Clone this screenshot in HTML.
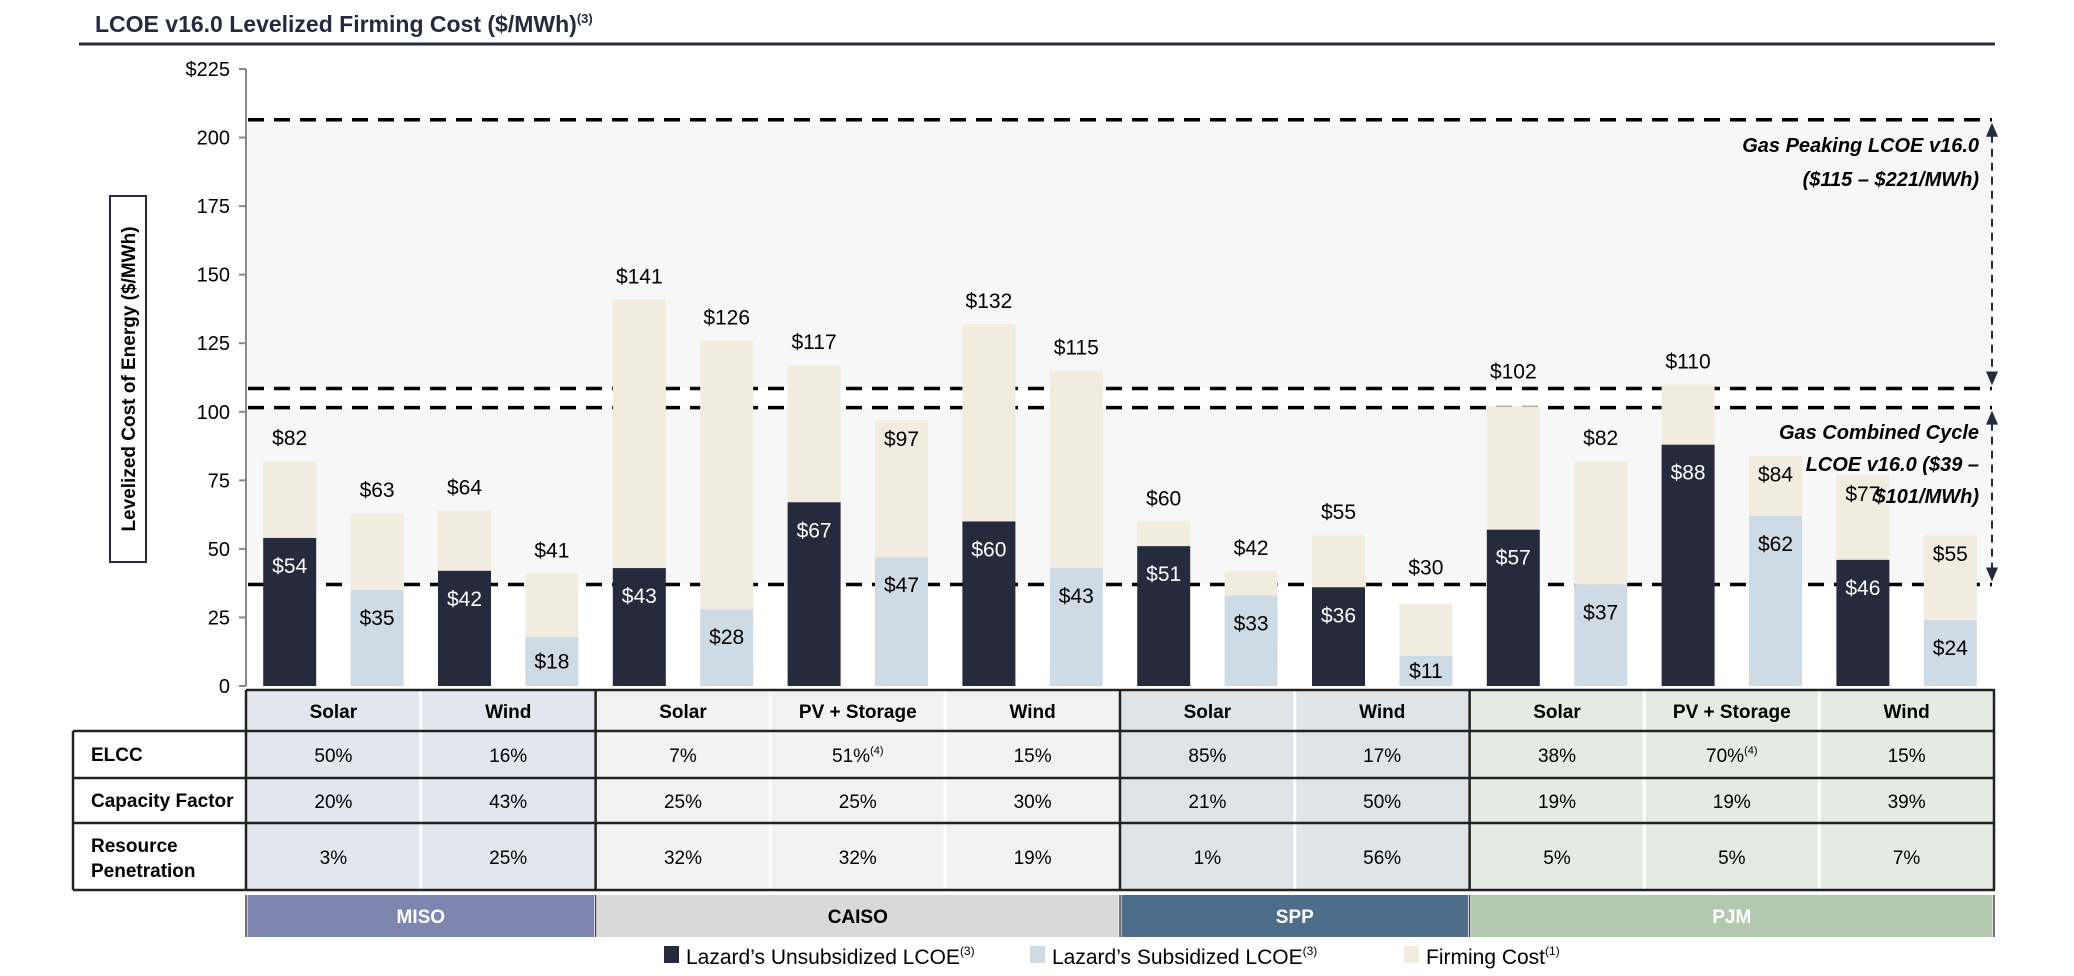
<!DOCTYPE html>
<html><head><meta charset="utf-8"><style>
body{margin:0;background:#fff;}
svg{display:block;font-family:"Liberation Sans Narrow","Liberation Sans",sans-serif;}
</style></head><body>
<svg id="chart" width="2074" height="976" viewBox="0 0 2074 976" xmlns="http://www.w3.org/2000/svg">
<text x="95" y="32" font-family="Liberation Sans, sans-serif" font-weight="bold" font-size="23" fill="#262a3d">LCOE v16.0 Levelized Firming Cost ($/MWh)<tspan font-size="13" dy="-9">(3)</tspan></text>
<line x1="79" y1="44" x2="1995" y2="44" stroke="#262a3d" stroke-width="3"/>
<g>
<rect x="110" y="196" width="36" height="366" fill="#fff" stroke="#262a3d" stroke-width="2"/>
<text x="0" y="0" transform="translate(135,379) rotate(-90)" text-anchor="middle" font-family="Liberation Sans, sans-serif" font-weight="bold" font-size="19" fill="#000">Levelized Cost of Energy ($/MWh)</text>
</g>
<g id="plot"></g>
<g id="table"></g>
<g id="legend"></g>
</svg>
<script>
const categories = ["MISO Solar","MISO Wind","CAISO Solar","CAISO PV + Storage","CAISO Wind","SPP Solar","SPP Wind","PJM Solar","PJM PV + Storage","PJM Wind"];
const unsubLCOE = [54,42,43,67,60,51,36,57,88,46];
const unsubTotal = [82,64,141,117,132,60,55,102,110,77];
const subLCOE = [35,18,28,47,43,33,11,37,62,24];
const subTotal = [63,41,126,97,115,42,30,82,84,55];
const yTicks = [0,25,50,75,100,125,150,175,200,225];
const gasPeakRange = [206.5,108.5];
const gasCCRange = [101.5,37];
const techLabels = ["Solar","Wind","Solar","PV + Storage","Wind","Solar","Wind","Solar","PV + Storage","Wind"];
const elcc = ["50%","16%","7%","51%","15%","85%","17%","38%","70%","15%"];
const capFactor = ["20%","43%","25%","25%","30%","21%","50%","19%","19%","39%"];
const penetration = ["3%","25%","32%","32%","19%","1%","56%","5%","5%","7%"];
const regions = ["MISO","CAISO","SPP","PJM"];
const regionCols = [2,3,2,3];

const NS="http://www.w3.org/2000/svg";
const X0=246, COLW=174.8, Y0=686, YMAX=225, YPIX=617;
const y=v=>Y0-v*YPIX/YMAX;
const colX=i=>X0+i*COLW;
function el(tag,attrs,parent,text){const e=document.createElementNS(NS,tag);for(const k in attrs)e.setAttribute(k,attrs[k]);if(text!==undefined)e.textContent=text;parent.appendChild(e);return e;}
const plot=document.getElementById('plot');
const lineVals=[gasPeakRange[0],gasPeakRange[1],gasCCRange[0],gasCCRange[1]];

[gasPeakRange,gasCCRange].forEach((r,i)=>{
 const s=el('rect',{x:X0+2,y:y(r[0]),width:1744,height:y(r[1])-y(r[0]),fill:'#f7f7f7'},plot);
 
 
});

lineVals.forEach(v=>{
 const d=el('line',{x1:X0+2,y1:y(v),x2:1992,y2:y(v),stroke:'#000',"stroke-width":3.5,"stroke-dasharray":"16 10"},plot);
 
 
});

const ax=el('line',{x1:X0,y1:y(225),x2:X0,y2:Y0,stroke:'#888',"stroke-width":2},plot);


yTicks.forEach(t=>{
 el('line',{x1:X0-7,y1:y(t),x2:X0,y2:y(t),stroke:'#888',"stroke-width":2},plot);
 const tl=el('text',{x:X0-16,y:y(t)+7,"text-anchor":"end","font-size":20,fill:'#000'},plot,(t===225?'$':'')+t);
 
 
});

const BW=53;
function bar(i,off,base,total,baseColor,labColor,kind,inside){
 const cx=colX(i)+COLW*off, x=cx-BW/2;
 const r1=el('rect',{x:x,y:y(total),width:BW,height:y(base)-y(total),fill:'#f2ebdf'},plot);
 
 
 const r2=el('rect',{x:x,y:y(base),width:BW,height:Y0-y(base),fill:baseColor},plot);
 
 
 const h=Y0-y(base);
 const bl=el('text',{x:cx,y:y(base)+Math.min(28,h/2)+7,"text-anchor":"middle","font-size":21,fill:labColor},plot,'$'+base);
 
 
 let by=inside?y(total)+26:y(total)-16;
 if(!inside){
  lineVals.forEach(v=>{const ly=y(v); if(ly>by-20&&ly<by+6) by=Math.min(by,ly-10);});
 }
 const tl=el('text',{x:cx,y:by,"text-anchor":"middle","font-size":21,fill:'#000'},plot,'$'+total);
 
 
}
const insideSub=[3,8,9], insideUnsub=[9];
categories.forEach((c,i)=>{
 bar(i,0.25,unsubLCOE[i],unsubTotal[i],'#262a3d','#fff','unsub',insideUnsub.includes(i));
 bar(i,0.75,subLCOE[i],subTotal[i],'#cfdbe4','#000','sub',insideSub.includes(i));
});

function arrow(a,b,name){
 const g=el('g',{},plot);
 
 
 const ax=1992, ya=y(a)+3, yb=y(b)-3;
 el('line',{x1:ax,y1:ya+12,x2:ax,y2:yb-12,stroke:'#262a3d',"stroke-width":2,"stroke-dasharray":"8 6"},g);
 el('polygon',{points:`${ax-6},${ya+14} ${ax+6},${ya+14} ${ax},${ya}`,fill:'#262a3d'},g);
 el('polygon',{points:`${ax-6},${yb-14} ${ax+6},${yb-14} ${ax},${yb}`,fill:'#262a3d'},g);
}
arrow(gasPeakRange[0],gasPeakRange[1],'gas-peaking-arrow');
arrow(gasCCRange[0],gasCCRange[1],'gas-cc-arrow');
const ann=[["Gas Peaking LCOE v16.0",152],["($115 – $221/MWh)",186],["Gas Combined Cycle",439],["LCOE v16.0 ($39 –",471],["$101/MWh)",503]];
ann.forEach((a,k)=>{
 const t=el('text',{x:1979,y:a[1],"text-anchor":"end","font-size":20,"font-weight":"bold","font-style":"italic",fill:'#000'},plot,a[0]);
 
 
});

const tb=document.getElementById('table');
const rowsY=[690,731,778,823,890];
const regionBg=['#e3e6ee','#f2f2f2','#dfe4e9','#e5ebe3'];
const regionBar=['#7e86b0','#d9d9d9','#4d6d8a','#b4c8b0'];
const regionTxt=['#fff','#000','#fff','#fff'];
let ci=0;
regions.forEach((r,ri)=>{
 const xs=colX(ci), w=regionCols[ri]*COLW;
 const bg=el('rect',{x:xs,y:690,width:w,height:200,fill:regionBg[ri]},tb);
 
 
 for(let k=1;k<regionCols[ri];k++) el('line',{x1:xs+k*COLW,y1:690,x2:xs+k*COLW,y2:890,stroke:'#fff',"stroke-width":3},tb);
 const rb=el('rect',{x:xs+1.5,y:895,width:w-3,height:42,fill:regionBar[ri]},tb);
 
 
 const rt=el('text',{x:xs+w/2,y:923,"text-anchor":"middle","font-size":19,"font-weight":"bold",fill:regionTxt[ri]},tb,r);
 
 
 ci+=regionCols[ri];
});
const rl=el('rect',{x:73,y:731,width:173,height:159,fill:'#fff'},tb);


[["ELCC",761],["Capacity Factor",807]].forEach(a=>{
 const t=el('text',{x:91,y:a[1],"font-size":19,"font-weight":"bold",fill:'#000'},tb,a[0]);
 
 
});
const rp=el('text',{x:91,y:852,"font-size":19,"font-weight":"bold",fill:'#000'},tb,'Resource');


el('tspan',{x:91,dy:25},rp,'Penetration');
rowsY.forEach((yy,k)=>{el('line',{x1:k===0?X0:73,y1:yy,x2:1995,y2:yy,stroke:'#222',"stroke-width":2.5},tb);});
el('line',{x1:73,y1:731,x2:73,y2:890,stroke:'#222',"stroke-width":2.5},tb);
[0,2,5,7,10].forEach(k=>el('line',{x1:colX(k),y1:690,x2:colX(k),y2:890,stroke:'#222',"stroke-width":2.5},tb));
[0,2,5,7,10].forEach(k=>el('line',{x1:colX(k),y1:895,x2:colX(k),y2:937,stroke:'#444',"stroke-width":1.5},tb));
categories.forEach((c,i)=>{
 const cx=colX(i)+COLW/2;
 const h=el('text',{x:cx,y:718,"text-anchor":"middle","font-size":19,"font-weight":"bold",fill:'#000'},tb,techLabels[i]);
 
 
 const e=el('text',{x:cx,y:762,"text-anchor":"middle","font-size":19,fill:'#000'},tb,elcc[i]);
 
 
 if(i===3||i===8){el('tspan',{"font-size":11,dy:-8},e,'(4)');}
 const f=el('text',{x:cx,y:808,"text-anchor":"middle","font-size":19,fill:'#000'},tb,capFactor[i]);
 
 
 const p=el('text',{x:cx,y:864,"text-anchor":"middle","font-size":19,fill:'#000'},tb,penetration[i]);
 
 
});

const lg=document.getElementById('legend');
[["Lazard’s Unsubsidized LCOE","(3)",664,'#262a3d'],["Lazard’s Subsidized LCOE","(3)",1030,'#cfdbe4'],["Firming Cost","(1)",1404,'#f2ebdf']].forEach((a,k)=>{
 const g=el('g',{},lg);
 
 
 el('rect',{x:a[2],y:946,width:15,height:17,fill:a[3]},g);
 const t=el('text',{x:a[2]+22,y:964,"font-size":21,fill:'#000'},g,a[0]);
 el('tspan',{"font-size":12,dy:-9},t,a[1]);
});
</script>
</body></html>
